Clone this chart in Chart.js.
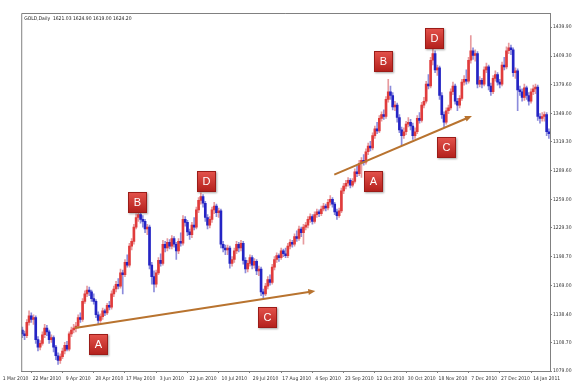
<!DOCTYPE html>
<html>
<head>
<meta charset="utf-8">
<script src="https://cdn.jsdelivr.net/npm/chart.js@4/dist/chart.umd.min.js"></script>
<style>
  html, body { margin: 0; padding: 0; background: #fff; }
  canvas { display: block; }
</style>
</head>
<body>
<canvas id="chart1" width="583" height="388"></canvas>
<script>
// GOLD daily candles (one entry per bar)
const opens = [
  1122,1118,1116,1130,1137,1133,1135,1112,1104,1108,
  1117,1124,1120,1112,1114,1104,1095,1090,1094,1100,
  1106,1102,1118,1122,1124,1126,1135,1133,1152,1160,
  1164,1162,1155,1152,1138,1132,1136,1142,1140,1148,
  1146,1160,1165,1170,1168,1182,1180,1193,1190,1210,
  1215,1230,1240,1243,1238,1236,1228,1230,1190,1178,
  1170,1182,1195,1192,1212,1208,1214,1210,1218,1212,
  1205,1215,1213,1238,1235,1225,1222,1232,1230,1248,
  1258,1262,1255,1240,1232,1238,1248,1252,1245,1247,
  1212,1208,1206,1208,1192,1196,1205,1212,1208,1213,
  1195,1186,1192,1198,1190,1194,1184,1186,1162,1160,
  1168,1175,1172,1188,1196,1200,1198,1205,1202,1200,
  1210,1214,1212,1220,1218,1228,1224,1230,1232,1238,
  1241,1236,1243,1246,1244,1249,1252,1250,1256,1259,
  1254,1246,1242,1247,1268,1273,1276,1279,1274,1278,
  1288,1286,1297,1300,1298,1309,1315,1313,1326,1333,
  1331,1344,1348,1346,1364,1372,1368,1356,1358,1345,
  1332,1326,1330,1338,1340,1336,1326,1330,1344,1342,
  1358,1362,1380,1378,1405,1412,1395,1397,1368,1348,
  1340,1352,1355,1372,1378,1362,1358,1365,1382,1385,
  1383,1405,1415,1410,1412,1380,1384,1380,1395,1398,
  1378,1372,1386,1390,1382,1380,1400,1398,1415,1418,
  1416,1392,1394,1374,1372,1366,1376,1368,1362,1372,
  1375,1377,1346,1344,1346,1348,1330
];
const highs = [
  1125,1121,1133,1142,1140,1138,1137,1115,1111,1120,
  1128,1127,1122,1117,1116,1106,1098,1097,1103,1109,
  1110,1120,1125,1128,1130,1138,1140,1155,1163,1168,
  1167,1164,1160,1154,1141,1139,1145,1144,1150,1152,
  1163,1168,1173,1176,1186,1185,1196,1201,1213,1218,
  1233,1244,1248,1247,1242,1238,1233,1232,1193,1184,
  1185,1198,1202,1216,1215,1218,1217,1221,1220,1214,
  1218,1224,1242,1241,1237,1228,1235,1240,1251,1261,
  1266,1264,1257,1243,1241,1251,1256,1254,1250,1249,
  1215,1211,1211,1210,1199,1208,1215,1214,1216,1215,
  1198,1195,1201,1200,1197,1196,1189,1188,1165,1171,
  1178,1180,1191,1199,1203,1202,1208,1207,1208,1213,
  1217,1216,1223,1226,1231,1230,1233,1235,1241,1244,
  1243,1246,1249,1248,1252,1255,1254,1259,1263,1261,
  1256,1249,1250,1271,1276,1279,1282,1281,1281,1291,
  1294,1300,1303,1306,1312,1318,1320,1329,1336,1340,
  1347,1351,1353,1367,1385,1378,1371,1362,1360,1348,
  1335,1334,1341,1345,1343,1339,1334,1347,1350,1361,
  1366,1383,1390,1408,1423,1415,1400,1399,1371,1351,
  1355,1358,1375,1382,1380,1365,1368,1385,1389,1395,
  1408,1431,1418,1416,1414,1388,1386,1398,1402,1400,
  1381,1389,1394,1392,1385,1403,1408,1419,1423,1421,
  1418,1397,1396,1378,1375,1380,1378,1371,1375,1379,
  1380,1379,1349,1350,1351,1350,1333
];
const lows = [
  1114,1112,1114,1127,1130,1128,1108,1100,1101,1106,
  1114,1116,1108,1109,1099,1091,1086,1087,1092,1097,
  1100,1100,1115,1119,1120,1124,1130,1131,1150,1157,
  1158,1152,1149,1135,1128,1130,1133,1137,1138,1143,
  1144,1157,1162,1165,1166,1160,1178,1188,1188,1206,
  1212,1228,1236,1234,1230,1224,1222,1186,1170,1162,
  1167,1180,1189,1190,1204,1205,1207,1207,1209,1196,
  1202,1210,1211,1231,1221,1217,1219,1227,1228,1245,
  1254,1251,1236,1228,1229,1235,1244,1241,1240,1208,
  1204,1201,1201,1187,1189,1193,1202,1204,1205,1191,
  1182,1183,1189,1186,1187,1180,1179,1158,1156,1158,
  1165,1169,1170,1185,1193,1194,1196,1199,1198,1198,
  1207,1209,1210,1215,1216,1220,1212,1227,1229,1235,
  1233,1234,1240,1241,1242,1247,1247,1248,1253,1251,
  1243,1238,1240,1245,1265,1270,1273,1271,1272,1276,
  1283,1284,1282,1295,1296,1306,1310,1311,1323,1328,
  1329,1341,1343,1344,1361,1364,1353,1352,1340,1329,
  1316,1323,1327,1335,1332,1322,1323,1328,1339,1340,
  1355,1360,1375,1376,1400,1392,1389,1364,1344,1335,
  1338,1349,1353,1369,1359,1352,1355,1363,1379,1380,
  1381,1402,1406,1404,1376,1377,1376,1378,1392,1374,
  1368,1370,1383,1379,1376,1378,1395,1396,1412,1411,
  1388,1386,1352,1368,1362,1363,1364,1358,1360,1369,
  1370,1342,1339,1341,1341,1326,1323
];
const closes = [
  1118,1116,1130,1137,1133,1135,1112,1104,1108,1117,
  1124,1120,1112,1114,1104,1095,1090,1094,1100,1106,
  1102,1118,1122,1124,1126,1135,1133,1152,1160,1164,
  1162,1155,1152,1138,1132,1136,1142,1140,1148,1146,
  1160,1165,1170,1168,1182,1180,1193,1190,1210,1215,
  1230,1240,1243,1238,1236,1228,1230,1190,1178,1170,
  1182,1195,1192,1212,1208,1214,1210,1218,1212,1205,
  1215,1213,1238,1235,1225,1222,1232,1230,1248,1258,
  1262,1255,1240,1232,1238,1248,1252,1245,1247,1212,
  1208,1206,1208,1192,1196,1205,1212,1208,1213,1195,
  1186,1192,1198,1190,1194,1184,1186,1162,1160,1168,
  1175,1172,1188,1196,1200,1198,1205,1202,1200,1210,
  1214,1212,1220,1218,1228,1224,1230,1232,1238,1241,
  1236,1243,1246,1244,1249,1252,1250,1256,1259,1254,
  1246,1242,1247,1268,1273,1276,1279,1274,1278,1288,
  1286,1297,1300,1298,1309,1315,1313,1326,1333,1331,
  1344,1348,1346,1364,1372,1368,1356,1358,1345,1332,
  1326,1330,1338,1340,1336,1326,1330,1344,1342,1358,
  1362,1380,1378,1405,1412,1395,1397,1368,1348,1340,
  1352,1355,1372,1378,1362,1358,1365,1382,1385,1383,
  1405,1415,1410,1412,1380,1384,1380,1395,1398,1378,
  1372,1386,1390,1382,1380,1400,1398,1415,1418,1416,
  1392,1394,1374,1372,1366,1376,1368,1362,1372,1375,
  1377,1346,1344,1346,1348,1330,1328
];

// axis labels
const dateLabels = ['1 Mar 2010','22 Mar 2010','9 Apr 2010','28 Apr 2010','17 May 2010','3 Jun 2010',
  '22 Jun 2010','10 Jul 2010','29 Jul 2010','17 Aug 2010','4 Sep 2010','23 Sep 2010',
  '12 Oct 2010','30 Oct 2010','18 Nov 2010','7 Dec 2010','27 Dec 2010','14 Jan 2011'];
const dateBars = [-3,11,25,39,53,67,81,95,109,123,137,151,165,179,193,207,221,235];
const priceTicks = [1079.00,1108.70,1138.40,1169.00,1198.70,1229.30,1259.00,1289.60,1319.30,1349.00,1379.60,1409.30,1439.90];
const headerText = 'GOLD,Daily  1621.03 1624.90 1619.00 1624.20';

// pattern markers (bar index, price) and trend arrows
const noteLetters = ['A','B','D','C','A','B','D','C'];
const noteBars = [34, 51.4, 82.5, 110, 157.5, 162, 184.6, 189.9];
const notePrices = [1107, 1256, 1278, 1135, 1278, 1404, 1428, 1313];
const arrowFrom = [[23.5, 1124], [139.8, 1285]];
const arrowTo = [[131.3, 1163], [201.5, 1346.5]];

const BULL = '#e03c3c', BEAR = '#2424c4';
const BULL_WICK = '#e79a9e', BEAR_WICK = '#8c8cdc';
const smallFont = "'Liberation Sans Narrow', 'DejaVu Sans Condensed', sans-serif";
const tickFont = { family: smallFont, size: 5 };

const wickData = highs.map((h, i) => ({ x: i, y: [lows[i], h] }));
const bodyData = opens.map((o, i) => ({ x: i, y: [o, closes[i]] }));
const isBull = i => closes[i] >= opens[i];

const extras = {
  id: 'extras',
  afterDatasetsDraw(chart) {
    const ctx = chart.ctx;
    const xs = chart.scales.x, ys = chart.scales.y;
    const a = chart.chartArea;

    // frame left/top
    ctx.save();
    ctx.strokeStyle = '#808080';
    ctx.lineWidth = 1;
    ctx.beginPath();
    ctx.moveTo(a.left + 0.5, a.bottom);
    ctx.lineTo(a.left + 0.5, a.top + 0.5);
    ctx.lineTo(a.right, a.top + 0.5);
    ctx.stroke();

    ctx.fillStyle = '#222';
    ctx.font = '5px ' + smallFont;
    ctx.textBaseline = 'middle';
    ctx.fillText(headerText, a.left + 3, a.top + 6);

    // arrows
    ctx.strokeStyle = '#b8732f';
    ctx.fillStyle = '#b8732f';
    ctx.lineWidth = 2;
    for (let k = 0; k < arrowFrom.length; k++) {
      const x1 = xs.getPixelForValue(arrowFrom[k][0]), y1 = ys.getPixelForValue(arrowFrom[k][1]);
      const x2 = xs.getPixelForValue(arrowTo[k][0]), y2 = ys.getPixelForValue(arrowTo[k][1]);
      const ang = Math.atan2(y2 - y1, x2 - x1);
      ctx.beginPath();
      ctx.moveTo(x1, y1);
      ctx.lineTo(x2 - 5 * Math.cos(ang), y2 - 5 * Math.sin(ang));
      ctx.stroke();
      ctx.beginPath();
      ctx.moveTo(x2, y2);
      ctx.lineTo(x2 - 7 * Math.cos(ang) + 3 * Math.sin(ang), y2 - 7 * Math.sin(ang) - 3 * Math.cos(ang));
      ctx.lineTo(x2 - 7 * Math.cos(ang) - 3 * Math.sin(ang), y2 - 7 * Math.sin(ang) + 3 * Math.cos(ang));
      ctx.closePath();
      ctx.fill();
    }

    // letter boxes
    for (let k = 0; k < noteLetters.length; k++) {
      const cx = xs.getPixelForValue(noteBars[k]);
      const cy = ys.getPixelForValue(notePrices[k]);
      const w = 19, h = 21;
      const x = Math.round(cx - w / 2), y = Math.round(cy - h / 2);
      ctx.save();
      ctx.shadowColor = 'rgba(0,0,0,0.35)';
      ctx.shadowBlur = 2;
      ctx.shadowOffsetX = 1;
      ctx.shadowOffsetY = 1;
      const g = ctx.createLinearGradient(0, y, 0, y + h);
      g.addColorStop(0, '#e4534c');
      g.addColorStop(1, '#b21f1b');
      ctx.fillStyle = g;
      ctx.fillRect(x, y, w, h);
      ctx.restore();
      ctx.strokeStyle = '#9b1c18';
      ctx.lineWidth = 1;
      ctx.strokeRect(x + 0.5, y + 0.5, w - 1, h - 1);
      ctx.fillStyle = '#fff';
      ctx.font = "11px 'Liberation Sans', Arial, sans-serif";
      ctx.textAlign = 'center';
      ctx.textBaseline = 'middle';
      ctx.fillText(noteLetters[k], x + w / 2, y + h / 2 + 0.5);
    }
    ctx.restore();
  }
};

new Chart(document.getElementById('chart1').getContext('2d'), {
  type: 'bar',
  data: {
    datasets: [{
      label: 'wick',
      data: wickData,
      barThickness: 1,
      backgroundColor: c => isBull(c.dataIndex) ? BULL_WICK : BEAR_WICK,
      grouped: false,
      order: 2
    }, {
      label: 'body',
      data: bodyData,
      barThickness: 2,
      minBarLength: 1,
      backgroundColor: c => isBull(c.dataIndex) ? BULL : BEAR,
      grouped: false,
      order: 1
    }]
  },
  options: {
    responsive: false,
    animation: false,
    devicePixelRatio: 1,
    layout: { padding: { left: 16, top: 13, right: 0, bottom: 0 } },
    plugins: { legend: { display: false }, tooltip: { enabled: false }, title: { display: false } },
    scales: {
      x: {
        type: 'linear',
        offset: false,
        min: -0.5,
        max: opens.length - 0.5,
        afterBuildTicks: s => { s.ticks = dateBars.map(v => ({ value: v })); },
        afterFit: s => { s.height = 17; },
        grid: { display: true, drawOnChartArea: false, tickLength: 2, color: '#808080' },
        border: { display: true, color: '#808080' },
        ticks: {
          autoSkip: false, maxRotation: 0, minRotation: 0, padding: 3,
          color: '#333', font: tickFont,
          callback: (v, i) => dateLabels[i]
        }
      },
      y: {
        position: 'right',
        min: 1079.0,
        max: 1454.6,
        afterBuildTicks: s => { s.ticks = priceTicks.map(v => ({ value: v })); },
        afterFit: s => { s.width = 33; },
        grid: { display: true, drawOnChartArea: false, tickLength: 2, color: '#808080' },
        border: { display: true, color: '#808080' },
        ticks: {
          padding: 1, color: '#333', font: tickFont,
          callback: v => v.toFixed(2)
        }
      }
    }
  },
  plugins: [extras]
});
</script>
</body>
</html>
